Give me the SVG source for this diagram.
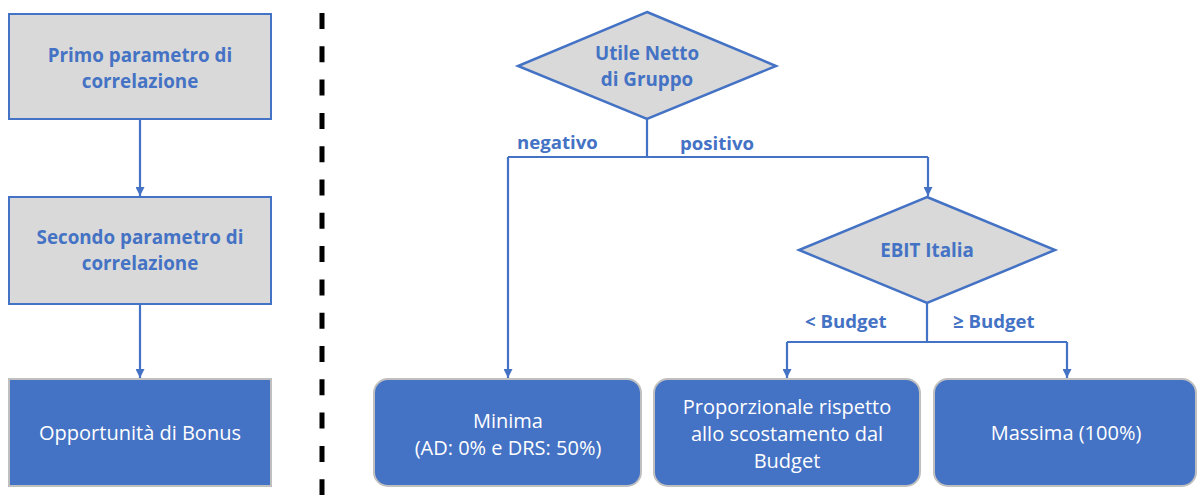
<svg xmlns="http://www.w3.org/2000/svg" width="1198" height="495" viewBox="0 0 1198 495">
<style>
.gbox{fill:#D9D9D9;stroke:#4472C4;stroke-width:2}
.bbox{fill:#4472C4;stroke:#BFBFBF;stroke-width:2}
.dia{fill:#D9D9D9;stroke:#4472C4;stroke-width:2.5}
.bt{font-family:"Open Sans","Liberation Sans",sans-serif;font-weight:bold;font-size:18.8px;fill:#4472C4;text-anchor:middle}
.lbl{font-family:"Open Sans","Liberation Sans",sans-serif;font-weight:bold;font-size:18.6px;fill:#4472C4}
.wt{font-family:"Open Sans","Liberation Sans",sans-serif;font-size:20px;fill:#FFFFFF;text-anchor:middle}
.con{fill:none;stroke:#4472C4;stroke-width:2.2}
</style>
<defs>
<marker id="arr" markerUnits="userSpaceOnUse" markerWidth="9" markerHeight="9" refX="9" refY="4.5" orient="auto">
<path d="M0,0 L9,4.5 L0,9 z" fill="#4472C4"/>
</marker>
</defs>
<g id="divider">
<line x1="322" y1="13" x2="322" y2="495" stroke="#000000" stroke-width="5" stroke-dasharray="16 17.3"/>
</g>
<g id="connectors">
<line class="con" x1="140" y1="119" x2="140" y2="196" marker-end="url(#arr)"/>
<line class="con" x1="140" y1="304" x2="140" y2="378" marker-end="url(#arr)"/>
<polyline class="con" points="647,119 647,157"/>
<polyline class="con" points="508,157 928,157"/>
<polyline class="con" points="508,157 508,378" marker-end="url(#arr)"/>
<polyline class="con" points="928,157 928,196" marker-end="url(#arr)"/>
<polyline class="con" points="927,303 927,342"/>
<polyline class="con" points="787,342 1067,342"/>
<polyline class="con" points="787,342 787,378" marker-end="url(#arr)"/>
<polyline class="con" points="1067,342 1067,378" marker-end="url(#arr)"/>
</g>
<g id="labels">
<text class="lbl" x="517" y="149">negativo</text>
<text class="lbl" x="680" y="150">positivo</text>
<text class="lbl" x="805" y="328">&lt; Budget</text>
<text class="lbl" x="953" y="328">≥ Budget</text>
</g>
<g id="primo">
<rect class="gbox" x="9" y="14" width="262" height="105"/>
<text class="bt" x="140" y="62">Primo parametro di</text>
<text class="bt" x="140" y="88">correlazione</text>
</g>
<g id="secondo">
<rect class="gbox" x="9" y="197" width="262" height="107"/>
<text class="bt" x="140" y="244">Secondo parametro di</text>
<text class="bt" x="140" y="270">correlazione</text>
</g>
<g id="opportunita">
<rect class="bbox" x="9" y="379" width="262" height="107"/>
<text class="wt" x="140" y="440">Opportunità di Bonus</text>
</g>
<g id="utile">
<polygon class="dia" points="647,12 776,66 647,119 518,66"/>
<text class="bt" x="647" y="60">Utile Netto</text>
<text class="bt" x="647" y="86">di Gruppo</text>
</g>
<g id="ebit">
<polygon class="dia" points="927,197 1055,250 927,303 799,250"/>
<text class="bt" x="927" y="257">EBIT Italia</text>
</g>
<g id="minima">
<rect class="bbox" x="374" y="379" width="267" height="107" rx="14"/>
<text class="wt" x="508" y="428">Minima</text>
<text class="wt" x="508" y="455">(AD: 0% e DRS: 50%)</text>
</g>
<g id="proporzionale">
<rect class="bbox" x="654" y="379" width="266" height="107" rx="14"/>
<text class="wt" x="787" y="414">Proporzionale rispetto</text>
<text class="wt" x="787" y="441">allo scostamento dal</text>
<text class="wt" x="787" y="468">Budget</text>
</g>
<g id="massima">
<rect class="bbox" x="934" y="379" width="262" height="107" rx="14"/>
<text class="wt" x="1066" y="440">Massima (100%)</text>
</g>
</svg>
